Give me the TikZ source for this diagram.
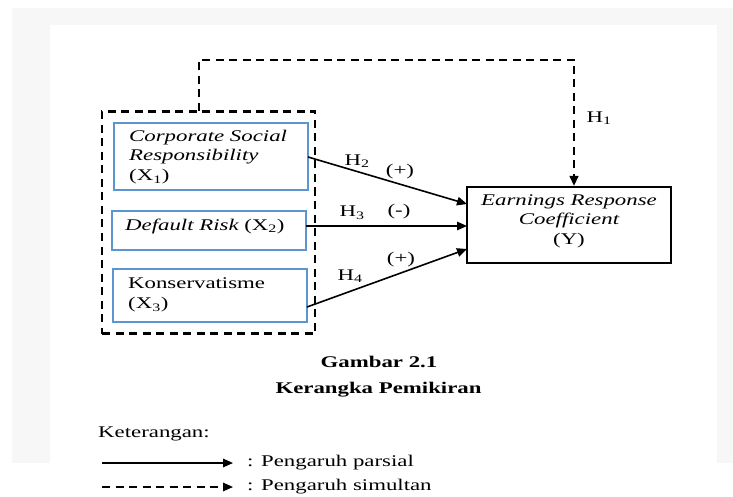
\documentclass[tikz,border=0pt]{standalone}
\usepackage{fontspec}
\setmainfont{Liberation Serif}[FakeStretch=1.4]
\usetikzlibrary{arrows.meta}
\definecolor{boxblue}{RGB}{91,150,210}
\tikzset{
  varbox/.style={draw=boxblue, line width=1.1pt},
  ybox/.style={draw=black, line width=1.2pt},
  txt/.style={inner sep=0pt, font=\fontsize{16.3}{19.5}\selectfont},
  partial/.style={line width=1.6pt, -{Triangle[length=10pt,width=8.5pt]}},
  simul/.style={line width=2.3pt, dash pattern=on 8pt off 5.5pt, -{Triangle[length=10pt,width=8.5pt]}},
  grpbox/.style={draw=black, line width=2.3pt, dash pattern=on 8pt off 5.5pt},
}
\begin{document}
\begin{tikzpicture}[x=1pt,y=-1pt]
\useasboundingbox (0,0) rectangle (733,497);
% faint page background
\fill[black!3] (12,8) rectangle (733,463);
\fill[white] (50,25) rectangle (717,497);

% group box
\node[grpbox, minimum width=213pt, minimum height=222pt, inner sep=0pt] (grp) at (208.5,222.5) {};

% variable boxes
\node[varbox, minimum width=194pt, minimum height=67pt, inner sep=0pt] (bx1) at (211,156.5) {};
\node[varbox, minimum width=194pt, minimum height=39pt, inner sep=0pt] (bx2) at (209,230.5) {};
\node[varbox, minimum width=194pt, minimum height=53pt, inner sep=0pt] (bx3) at (210,295.5) {};
\node[txt, anchor=west, align=left] (t1) at (129,157) {\itshape Corporate Social\\\itshape Responsibility\\(X\textsubscript{1})};
\node[txt, anchor=west] (t2) at (125,226) {\itshape Default Risk\upshape{} (X\textsubscript{2})};
\node[txt, anchor=west, align=left] (t3) at (128,295) {Konservatisme\\(X\textsubscript{3})};

% dependent box
\node[ybox, minimum width=204pt, minimum height=76pt, inner sep=0pt] (Y) at (569,225) {};
\node[txt, align=center] (ty) at (569,221) {\itshape Earnings Response\\\itshape Coefficient\\(Y)};

% connectors
\coordinate (s1) at (308,157);
\coordinate (e1) at (467,204);
\coordinate (s2) at (306,226);
\coordinate (e2) at (467,226);
\coordinate (s3) at (307,307);
\coordinate (e3) at (467,249);
\draw[partial] (s1) -- (e1);
\draw[partial] (s2) -- (e2);
\draw[partial] (s3) -- (e3);

\coordinate (g1) at (199,111);
\coordinate (g2) at (199,60);
\coordinate (g3) at (574,60);
\coordinate (gy) at (574,186);
\draw[simul] (g1) -- (g2) -- (g3) -- (gy);

% labels
\node[txt] (h1) at (599,118) {H\textsubscript{1}};
\node[txt] (h2) at (357,161) {H\textsubscript{2}};
\node[txt] (p2) at (400,172) {(+)};
\node[txt] (h3) at (352,213) {H\textsubscript{3}};
\node[txt] (p3) at (399,212) {(-)};
\node[txt] (h4) at (350,276) {H\textsubscript{4}};
\node[txt] (p4) at (401,260) {(+)};

% caption
\node[txt, font=\fontsize{16.3}{19.5}\selectfont\bfseries] (cap1) at (379,362) {Gambar 2.1};
\node[txt, font=\fontsize{16.3}{19.5}\selectfont\bfseries] (cap2) at (378.5,390) {Kerangka Pemikiran};

% legend
\node[txt, anchor=west] (ket) at (98,434) {Keterangan:};
\coordinate (l1a) at (102,463);
\coordinate (l1b) at (233,463);
\coordinate (l2a) at (102,487);
\coordinate (l2b) at (233,487);
\draw[partial] (l1a) -- (l1b);
\draw[simul, line width=1.6pt] (l2a) -- (l2b);
\node[txt, anchor=west] (lt1) at (247,463) {: Pengaruh parsial};
\node[txt, anchor=west] (lt2) at (247,487) {: Pengaruh simultan};
\end{tikzpicture}
\end{document}
